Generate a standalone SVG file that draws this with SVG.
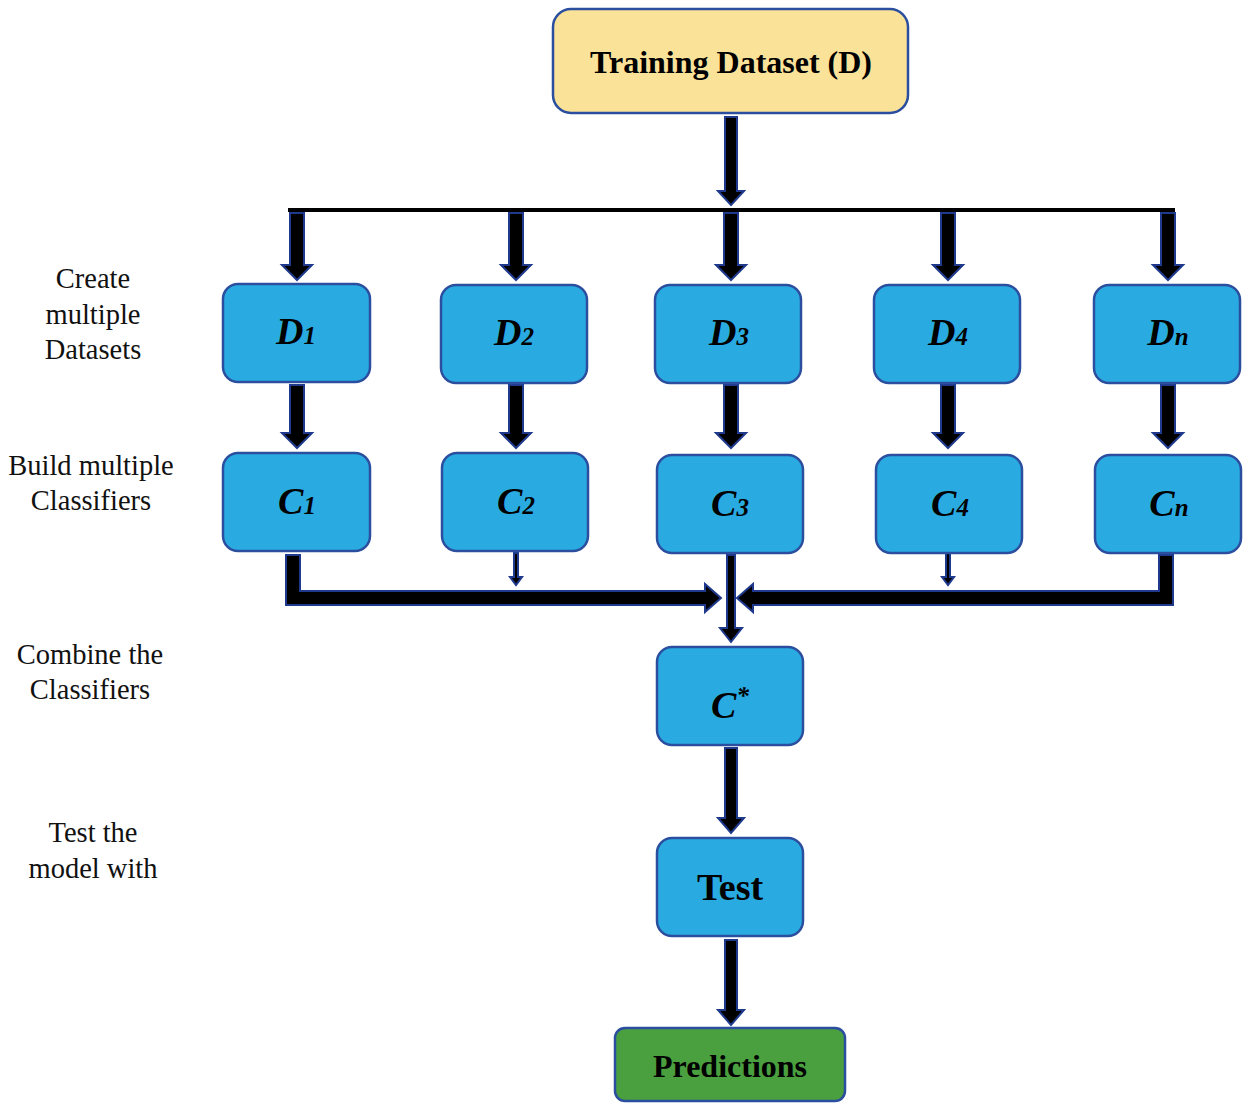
<svg xmlns="http://www.w3.org/2000/svg" width="1250" height="1109" viewBox="0 0 1250 1109">
<style>
.box{fill:#29abe2;stroke:#2b4f9e;stroke-width:2.5}
.yel{fill:#fbe299;stroke:#2b4f9e;stroke-width:2.5}
.grn{fill:#4aa03f;stroke:#2b4f9e;stroke-width:2.5}
.arr{fill:#000;stroke:#1f3a8c;stroke-width:2;stroke-linejoin:miter}
.lbl{font-family:"Liberation Serif","Times New Roman",serif;font-size:28.5px;fill:#111;text-anchor:middle}
.bi{font-family:"Liberation Serif","Times New Roman",serif;font-weight:bold;font-style:italic;font-size:38px;fill:#000;text-anchor:middle}
.b{font-family:"Liberation Serif","Times New Roman",serif;font-weight:bold;fill:#000;text-anchor:middle}
</style>
<g id="side-labels">
<text class="lbl" x="93" y="288">Create</text>
<text class="lbl" x="93" y="324">multiple</text>
<text class="lbl" x="93" y="359">Datasets</text>
<text class="lbl" x="91" y="475">Build multiple</text>
<text class="lbl" x="91" y="510">Classifiers</text>
<text class="lbl" x="90" y="664">Combine the</text>
<text class="lbl" x="90" y="699">Classifiers</text>
<text class="lbl" x="93" y="842">Test the</text>
<text class="lbl" x="93" y="878">model with</text>
</g>
<g id="connectors">
<rect x="288" y="208" width="887" height="4" fill="#000"/>
<polygon class="arr" points="725,117 737,117 737,191 744,191 731,205 718,191 725,191"/>
<polygon class="arr" points="290,213 304,213 304,265 312,265 297,280 282,265 290,265"/>
<polygon class="arr" points="509,213 523,213 523,265 531,265 516,280 501,265 509,265"/>
<polygon class="arr" points="724,213 738,213 738,265 746,265 731,280 716,265 724,265"/>
<polygon class="arr" points="941,213 955,213 955,265 963,265 948,280 933,265 941,265"/>
<polygon class="arr" points="1161,213 1175,213 1175,265 1183,265 1168,280 1153,265 1161,265"/>
<polygon class="arr" points="290,385 304,385 304,433 312,433 297,448 282,433 290,433"/>
<polygon class="arr" points="509,385 523,385 523,433 531,433 516,448 501,433 509,433"/>
<polygon class="arr" points="724,385 738,385 738,433 746,433 731,448 716,433 724,433"/>
<polygon class="arr" points="941,385 955,385 955,433 963,433 948,448 933,433 941,433"/>
<polygon class="arr" points="1161,385 1175,385 1175,433 1183,433 1168,448 1153,433 1161,433"/>
<polygon class="arr" points="286,555 300,555 300,591 705,591 705,584 721,598 705,612 705,605 286,605"/>
<polygon class="arr" points="1173,555 1159,555 1159,591 753,591 753,584 737,598 753,612 753,605 1173,605"/>
<polygon class="arr" points="514,553 518,553 518,577 522,577 516,585 510,577 514,577"/>
<polygon class="arr" points="946,553 950,553 950,577 954,577 948,585 942,577 946,577"/>
<polygon class="arr" points="727,555 735,555 735,628 742,628 731,642 720,628 727,628"/>
<polygon class="arr" points="725,748 737,748 737,818 744,818 731,833 718,818 725,818"/>
<polygon class="arr" points="725,940 737,940 737,1010 744,1010 731,1025 718,1010 725,1010"/>
</g>
<g id="training"><rect class="yel" x="553" y="9" width="355" height="104" rx="18"/><text class="b" x="731" y="73" font-size="32">Training Dataset (D)</text></g>
<g id="D1"><rect class="box" x="223" y="284" width="147" height="98" rx="15"/><text class="bi" x="296" y="344">D<tspan font-size="25">1</tspan></text></g>
<g id="D2"><rect class="box" x="441" y="285" width="146" height="98" rx="15"/><text class="bi" x="514" y="345">D<tspan font-size="25">2</tspan></text></g>
<g id="D3"><rect class="box" x="655" y="285" width="146" height="98" rx="15"/><text class="bi" x="729" y="345">D<tspan font-size="25">3</tspan></text></g>
<g id="D4"><rect class="box" x="874" y="285" width="146" height="98" rx="15"/><text class="bi" x="948" y="345">D<tspan font-size="25">4</tspan></text></g>
<g id="Dn"><rect class="box" x="1094" y="285" width="146" height="98" rx="15"/><text class="bi" x="1168" y="345">D<tspan font-size="25">n</tspan></text></g>
<g id="C1"><rect class="box" x="223" y="453" width="147" height="98" rx="15"/><text class="bi" x="297" y="514">C<tspan font-size="25">1</tspan></text></g>
<g id="C2"><rect class="box" x="442" y="453" width="146" height="98" rx="15"/><text class="bi" x="516" y="514">C<tspan font-size="25">2</tspan></text></g>
<g id="C3"><rect class="box" x="657" y="455" width="146" height="98" rx="15"/><text class="bi" x="730" y="516">C<tspan font-size="25">3</tspan></text></g>
<g id="C4"><rect class="box" x="876" y="455" width="146" height="98" rx="15"/><text class="bi" x="950" y="516">C<tspan font-size="25">4</tspan></text></g>
<g id="Cn"><rect class="box" x="1095" y="455" width="146" height="98" rx="15"/><text class="bi" x="1169" y="516">C<tspan font-size="25">n</tspan></text></g>
<g id="Cstar"><rect class="box" x="657" y="647" width="146" height="98" rx="15"/><text class="bi" x="730" y="718">C<tspan font-size="25" dy="-14">*</tspan></text></g>
<g id="test"><rect class="box" x="657" y="838" width="146" height="98" rx="15"/><text class="b" x="730" y="900" font-size="38">Test</text></g>
<g id="predictions"><rect class="grn" x="615" y="1028" width="230" height="73" rx="10"/><text class="b" x="730" y="1077" font-size="32">Predictions</text></g>
</svg>
